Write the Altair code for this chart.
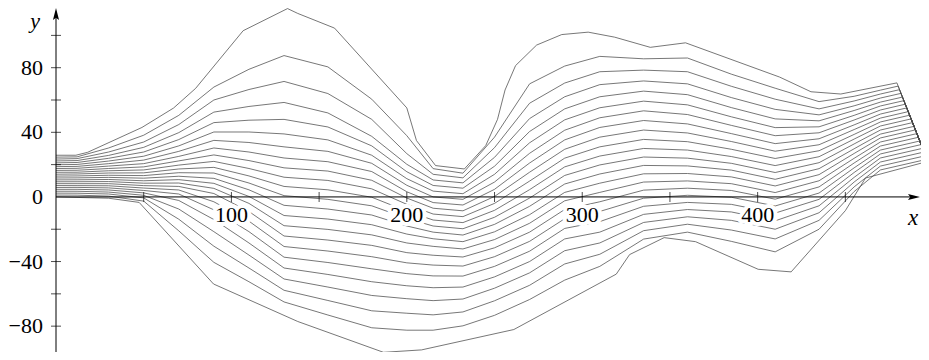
import altair as alt
import pandas as pd

# x positions (data units) where the inner curves were read
STATIONS = [0, 12, 30, 50, 70, 90, 110, 130, 155, 180, 200, 215, 232,
            250, 270, 290, 310, 335, 360, 385, 410, 435, 455, 470]

# y of curves 0 (lowest) .. 22 (highest) at each station
y_s000 = [0, 1.17, 2.35, 3.52, 4.69, 5.86, 7.04, 8.21, 9.38, 10.55, 11.73, 12.9, 14.07, 15.25, 16.42, 17.59, 18.76, 19.94, 21.11, 22.28, 23.45, 24.63, 25.8]
y_s012 = [-0.2, 1.1, 2.3, 3.5, 4.7, 5.9, 7.0, 8.2, 9.4, 10.6, 11.8, 13.0, 14.2, 15.3, 16.5, 17.7, 18.9, 20.1, 21.3, 22.5, 23.7, 24.8, 25.9]
y_s030 = [-0.8, 0.5, 1.8, 3.0, 4.3, 5.6, 6.9, 8.2, 9.5, 10.8, 12.1, 13.4, 14.8, 16.2, 17.6, 19.1, 20.6, 22.2, 23.9, 25.7, 27.8, 30.3, 33.6]
y_s050 = [-6.5, -2.6, -0.6, 1.0, 2.5, 4.0, 5.5, 7.0, 8.5, 10.0, 11.6, 13.2, 14.9, 16.7, 18.6, 20.6, 22.8, 25.2, 27.8, 30.7, 34.0, 38.2, 43.7]
y_s070 = [-30.3, -21.0, -13.8, -7.5, -2.2, 1.8, 4.3, 6.5, 8.6, 10.7, 12.8, 15.0, 17.3, 19.7, 22.3, 25.1, 28.2, 31.6, 35.5, 39.8, 44.8, 50.5, 57.9]
y_s090 = [-54, -40.5, -30.5, -21.5, -14, -8, -3, 2.1, 5.3, 8.4, 11.5, 14.8, 18.3, 22.0, 26.0, 30.3, 35.0, 40.2, 46.0, 52.5, 60.0, 68.0, 80.9]
y_s110 = [-63.6, -52.5, -44, -36, -28.5, -21.5, -15, -9, -4, 0.3, 4.4, 8.6, 13.0, 17.6, 22.5, 27.8, 33.7, 40.2, 47.5, 56, 66.5, 79, 104.7]
y_s130 = [-73.2, -65, -57.8, -50.8, -44, -37.3, -30.7, -24.2, -17.8, -11.5, -5.2, 0.8, 6.5, 12.2, 18, 24.1, 31, 39, 48, 58.5, 71.5, 87.5, 115.5]
y_s155 = [-83.6, -73.1, -64.1, -55.8, -48, -40.6, -33.5, -26.7, -20.1, -13.7, -7.5, -1.5, 4.4, 10.2, 16, 21.8, 28.2, 35.3, 43.3, 52, 64, 80.5, 106.2]
y_s180 = [-93.5, -81, -70.5, -61, -52.5, -44.5, -37, -30, -23.5, -17.2, -11.2, -5.5, -0.2, 5, 10.3, 15.7, 20.8, 25.8, 31.6, 37.5, 48, 60.5, 79.1]
y_s200 = [-95.3, -82.5, -72, -63, -55, -47.5, -40.8, -34.5, -28.5, -23, -18, -13.3, -8.8, -4.6, -0.7, 3.2, 7.2, 11.3, 15.6, 20.2, 26.8, 37.9, 55.1]
y_s215 = [-93, -82.5, -73, -64.2, -56.2, -48.9, -42.2, -36.1, -30.6, -25.9, -21.8, -18, -14.3, -10.6, -7, -3.5, 0, 3.6, 7.1, 10.5, 14, 17.5, 21.4]
y_s232 = [-89, -79.8, -71.2, -63.2, -55.8, -49, -42.8, -37.2, -32.2, -27.7, -23.6, -19.7, -15.9, -12.2, -8.6, -5, -1.5, 2, 5.4, 8.7, 11.8, 14.7, 17.4]
y_s250 = [-84.7, -73.3, -64.3, -56.5, -49.5, -43, -37, -31.5, -26.4, -21.6, -17, -12.6, -8.3, -4, 0.3, 4.7, 9.2, 14, 19, 24.5, 30.5, 37, 43.9]
y_s270 = [-76.8, -63.5, -54.7, -47, -40, -33.6, -27.5, -21.8, -16.3, -11, -5.8, -0.7, 4.5, 9.8, 15.3, 21, 27, 33.5, 40.5, 48.5, 58, 70, 89.8]
y_s290 = [-65.1, -51.5, -41.5, -33.3, -26, -19.5, -13.5, -7.8, -2.4, 2.8, 8, 13.3, 18.6, 24, 29.5, 35.3, 41.3, 47.7, 54.5, 62, 70.5, 81, 100.7]
y_s310 = [-53.3, -43, -35.5, -28.5, -21.8, -15.3, -9, -3, 2.8, 8.5, 14.2, 19.8, 25.3, 31, 37, 43, 49, 55.2, 62, 69.5, 77.5, 87, 100.7]
y_s335 = [-31.7, -26.1, -20.9, -15.8, -10.8, -5.8, -0.8, 4.2, 9.2, 14.3, 19.5, 24.7, 30, 35.6, 41.4, 47.3, 53.3, 59.3, 65.5, 71.8, 78.5, 85.5, 93.7]
y_s360 = [-27.1, -21.8, -16.9, -12.3, -7.8, -3.4, 1, 5.4, 9.9, 14.5, 19.2, 24, 29, 34.2, 39.6, 45.2, 51, 57, 63.3, 70, 77.5, 86, 95]
y_s385 = [-37.5, -27.5, -20.5, -14.5, -9.3, -4.6, -0.2, 4, 8.2, 12.4, 16.6, 20.8, 25, 29.5, 34.3, 39.2, 44.3, 49.6, 55.3, 61.5, 68.5, 76, 85.1]
y_s410 = [-45.8, -34, -26, -20, -14.8, -10, -5.6, -1.4, 2.7, 6.8, 10.9, 15.1, 19.4, 23.8, 28.3, 33, 37.9, 42.9, 48.3, 54.2, 60.5, 67.3, 75.2]
y_s435 = [-26.9, -20, -14.5, -9.8, -5.5, -1.5, 2.4, 6.2, 10, 13.8, 17.5, 21.2, 24.9, 28.6, 32.3, 36, 39.7, 43.4, 47.1, 50.8, 54.5, 59, 64.7]
y_s455 = [0.3, 3.3, 6.2, 9.2, 12.1, 15.1, 18, 21, 23.9, 26.9, 29.8, 32.8, 35.8, 38.7, 41.7, 44.6, 47.6, 50.5, 53.5, 56.4, 59.4, 62.3, 65.3]
y_s470 = [14.2, 16.7, 19.1, 21.6, 24.1, 26.6, 29, 31.5, 34, 36.5, 38.9, 41.4, 43.9, 46.4, 48.8, 51.3, 53.8, 56.3, 58.7, 61.2, 63.7, 66.1, 68.6]

STATION_Y = [y_s000, y_s012, y_s030, y_s050, y_s070, y_s090, y_s110, y_s130,
             y_s155, y_s180, y_s200, y_s215, y_s232, y_s250, y_s270, y_s290,
             y_s310, y_s335, y_s360, y_s385, y_s410, y_s435, y_s455, y_s470]

# where inner curves 1..21 meet the steep right-hand edge
END_X = [496.5, 495.7, 494.9, 494.1, 493.2, 492.4, 491.6, 490.8, 490.0, 489.2, 488.3,
         487.5, 486.7, 485.9, 485.0, 484.2, 483.4, 482.6, 481.7, 480.9, 480.1]
END_Y = [23.3, 25.5, 27.8, 30.1, 32.4, 34.6, 36.9, 39.2, 41.5, 43.7, 46.0,
         48.3, 50.6, 52.8, 55.1, 57.4, 59.6, 61.8, 64.1, 66.4, 68.6]
SINK_X, SINK_Y = 497, 22

# outermost curves, read vertex by vertex
TOP_X = [0, 11.3, 18, 49, 67, 79.6, 106.7, 132, 137.8, 158.8, 200, 205.5, 216.4, 232.8,
         245, 251.7, 256, 262, 274, 288.3, 303.4, 318.5, 338.8, 358.9, 412.5, 430.4,
         447.4, 479.4, 497]
TOP_Y = [25.8, 25.8, 27.6, 43, 55, 67.2, 102.9, 116.6, 113.6, 104.5, 55.1, 34.9, 19.4, 17.3,
         31.8, 48, 66.2, 81.3, 94, 100.5, 102, 98.9, 92.6, 95.4, 74.2, 65.1,
         63.7, 70.6, 22]
BOT_X = [0, 30, 47.4, 89.8, 137.8, 186.7, 208.4, 261, 319.4, 327, 346.7, 364.6,
         400.3, 419.1, 450, 461.5, 497]
BOT_Y = [0, -0.8, -3.4, -53.9, -77.1, -96.2, -94.7, -82.1, -47.8, -35.7, -25.2, -27.7,
         -44.8, -46.4, -8.5, 11.7, 22]

# axes
X_RANGE = [0, 488]
Y_RANGE = [-96, 112]
X_TICKS = [50, 100, 150, 200, 250, 300, 350, 400, 450]
Y_TICKS = [-80, -60, -40, -20, 20, 40, 60, 80, 100]
X_LABELS = [100, 200, 300, 400]
Y_LABELS = [80, 40, 0, -40, -80]

rows = []
for i, (xv, yv) in enumerate(zip(BOT_X, BOT_Y)):
    rows.append({"curve": 0, "i": i, "x": xv, "y": yv})
for k in range(1, 22):
    pts = [(sx, col[k]) for sx, col in zip(STATIONS, STATION_Y)]
    pts.append((END_X[k - 1], END_Y[k - 1]))
    pts.append((SINK_X, SINK_Y))
    for i, (xv, yv) in enumerate(pts):
        rows.append({"curve": k, "i": i, "x": xv, "y": yv})
for i, (xv, yv) in enumerate(zip(TOP_X, TOP_Y)):
    rows.append({"curve": 22, "i": i, "x": xv, "y": yv})
df = pd.DataFrame(rows)

xs = alt.Scale(domain=X_RANGE, nice=False, zero=False)
ys = alt.Scale(domain=Y_RANGE, nice=False, zero=False)
FONT = "Liberation Serif"


def X(f):
    return alt.X(f, scale=xs, axis=None)


def Y(f):
    return alt.Y(f, scale=ys, axis=None)


lines = alt.Chart(df).mark_line(color="#4a4a4a", strokeWidth=0.75).encode(
    x=X("x:Q"), y=Y("y:Q"), detail="curve:N", order="i:Q")

yaxis = alt.Chart(pd.DataFrame({"x": [0], "y": [Y_RANGE[0]], "y2": [Y_RANGE[1]]})).mark_rule(
    color="black", strokeWidth=1).encode(x=X("x:Q"), y=Y("y:Q"), y2="y2:Q")
xaxis = alt.Chart(pd.DataFrame({"x": [X_RANGE[0]], "x2": [X_RANGE[1]], "y": [0]})).mark_rule(
    color="black", strokeWidth=1).encode(x=X("x:Q"), x2="x2:Q", y=Y("y:Q"))

xt_df = pd.DataFrame({"t": X_TICKS, "z": [0] * len(X_TICKS)})
yt_df = pd.DataFrame({"t": Y_TICKS, "z": [0] * len(Y_TICKS)})
xticks = alt.Chart(xt_df).mark_tick(
    orient="vertical", size=10, thickness=1, color="black").encode(x=X("t:Q"), y=Y("z:Q"))
yticks = alt.Chart(yt_df).mark_tick(
    orient="horizontal", size=10, thickness=1, color="black").encode(x=X("z:Q"), y=Y("t:Q"))

xlab_df = pd.DataFrame({"v": X_LABELS, "z": [0] * len(X_LABELS),
                        "s": [str(v) for v in X_LABELS]})
xlab_halo = alt.Chart(xlab_df).mark_text(
    dy=18, fontSize=22, font=FONT, align="center", baseline="middle",
    color="white", stroke="white", strokeWidth=8, strokeJoin="round").encode(
    x=X("v:Q"), y=Y("z:Q"), text="s:N")
xlab = alt.Chart(xlab_df).mark_text(
    dy=18, fontSize=22, font=FONT, align="center", baseline="middle", color="black").encode(
    x=X("v:Q"), y=Y("z:Q"), text="s:N")

ylab_df = pd.DataFrame({"v": Y_LABELS, "z": [0] * len(Y_LABELS),
                        "s": [str(v).replace("-", "\u2212") for v in Y_LABELS]})
ylab = alt.Chart(ylab_df).mark_text(
    dx=-13, fontSize=22, font=FONT, align="right", baseline="middle", color="black").encode(
    x=X("z:Q"), y=Y("v:Q"), text="s:N")

up_arrow = "M0,-1 L0.38,0.5 L0,0.22 L-0.38,0.5 Z"
right_arrow = "M1,0 L-0.5,-0.38 L-0.22,0 L-0.5,0.38 Z"
yarrow = alt.Chart(pd.DataFrame({"x": [0], "y": [Y_RANGE[1]]})).mark_point(
    shape=up_arrow, size=256, filled=True, color="black", opacity=1).encode(
    x=X("x:Q"), y=Y("y:Q"))
xarrow = alt.Chart(pd.DataFrame({"x": [X_RANGE[1]], "y": [0]})).mark_point(
    shape=right_arrow, size=256, filled=True, color="black", opacity=1).encode(
    x=X("x:Q"), y=Y("y:Q"))

xtitle = alt.Chart(pd.DataFrame({"x": [X_RANGE[1]], "y": [0], "s": ["x"]})).mark_text(
    dx=1, dy=21, fontSize=23, font=FONT, fontStyle="italic", align="center",
    baseline="middle", color="black").encode(x=X("x:Q"), y=Y("y:Q"), text="s:N")
ytitle = alt.Chart(pd.DataFrame({"x": [0], "y": [Y_RANGE[1]], "s": ["y"]})).mark_text(
    dx=-21, dy=5, fontSize=22, font=FONT, fontStyle="italic", align="center",
    baseline="middle", color="black").encode(x=X("x:Q"), y=Y("y:Q"), text="s:N")

chart = alt.layer(
    lines, xaxis, yaxis, xticks, yticks, xlab_halo, xlab, ylab,
    yarrow, xarrow, xtitle, ytitle,
).properties(
    width=856, height=336,
    autosize=alt.AutoSizeParams(type="none"),
    padding={"left": 48, "top": 8, "right": 9, "bottom": 0},
    background="white",
).configure_view(stroke=None)

chart.save("out.html", embed_options={"renderer": "svg", "actions": False})
